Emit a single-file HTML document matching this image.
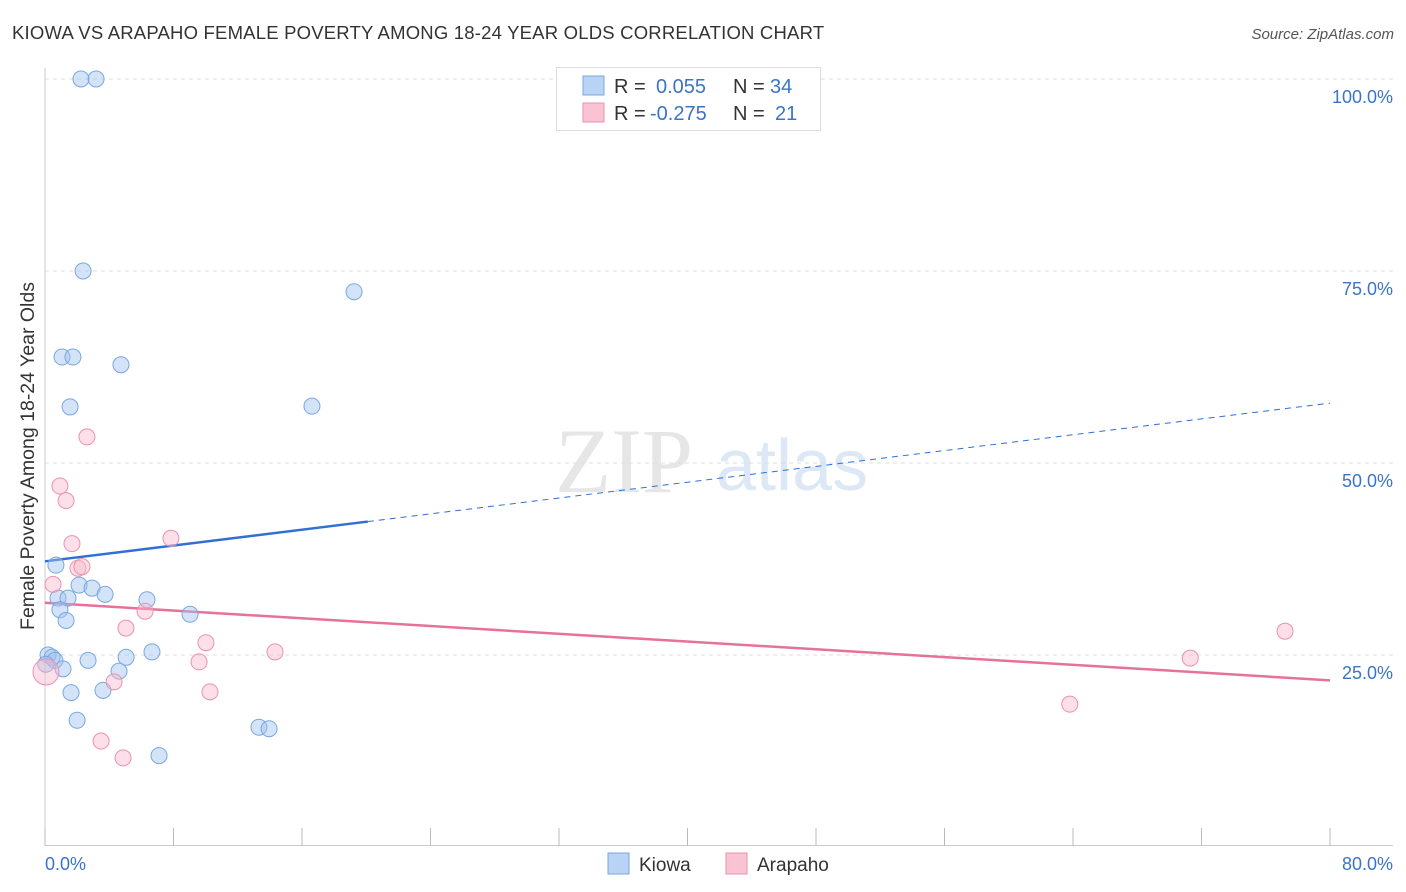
<!DOCTYPE html>
<html><head><meta charset="utf-8"><style>
body{margin:0;background:#fff;font-family:"Liberation Sans",sans-serif;}
#wrap{position:relative;width:1406px;height:892px;overflow:hidden;}
</style></head><body>
<div id="wrap">
<svg id="svg" width="1406" height="892" xmlns="http://www.w3.org/2000/svg">
<text x="12" y="39" font-size="18.5" letter-spacing="0.2" fill="#333">KIOWA VS ARAPAHO FEMALE POVERTY AMONG 18-24 YEAR OLDS CORRELATION CHART</text>
<text x="1394" y="39" font-size="15" fill="#555" font-style="italic" text-anchor="end">Source: ZipAtlas.com</text>
<text x="555" y="492" font-size="92" fill="#e6e6e6" font-family="Liberation Serif,serif">ZIP</text>
<text x="716" y="490" font-size="72" fill="#dce8f6">atlas</text>
<text transform="translate(34,456) rotate(-90)" font-size="19.5" fill="#333" text-anchor="middle">Female Poverty Among 18-24 Year Olds</text>
<g id="grid"></g><g id="axes"></g><g id="lines"></g><g id="pts"></g>
<g>
<rect x="556.5" y="67.5" width="264" height="63" fill="#fff" stroke="#ddd"/>
<rect x="583" y="76" width="21" height="19" fill="#b9d3f5" stroke="#7aa7e0"/>
<rect x="583" y="103" width="21" height="19" fill="#f9c3d3" stroke="#eb92ad"/>
<text y="93" font-size="20"><tspan x="614" fill="#333">R =</tspan><tspan x="656" fill="#3a74c9">0.055</tspan><tspan x="733" fill="#333">N =</tspan><tspan x="770" fill="#3a74c9">34</tspan></text>
<text y="120" font-size="20"><tspan x="614" fill="#333">R =</tspan><tspan x="650" fill="#3a74c9">-0.275</tspan><tspan x="733" fill="#333">N =</tspan><tspan x="775" fill="#3a74c9">21</tspan></text>
</g>
<g>
<rect x="608" y="853" width="21" height="21" fill="#b9d3f5" stroke="#7aa7e0"/>
<text x="639" y="871" font-size="19" fill="#333">Kiowa</text>
<rect x="726" y="853" width="21" height="21" fill="#f9c3d3" stroke="#eb92ad"/>
<text x="757" y="871" font-size="19" fill="#333">Arapaho</text>
</g>
</svg>
<script>
const kiowaX=[2.24,3.18,2.37,19.24,1.06,1.74,4.73,1.56,16.62,0.68,2.12,2.93,3.74,6.35,0.81,1.43,0.93,9.03,1.31,0.19,0.44,0.62,2.68,5.05,6.66,1.12,4.61,1.62,3.61,2.0,13.32,13.95,7.1,0.05];
const kiowaY=[100,100,75.0,72.3,63.8,63.8,62.8,57.3,57.4,36.7,34.1,33.7,32.9,32.2,32.4,32.4,30.9,30.3,29.5,25.0,24.7,24.3,24.3,24.7,25.4,23.2,22.9,20.1,20.4,16.5,15.6,15.4,11.9,23.8];
const arapahoX=[2.61,0.93,1.31,1.68,7.84,2.05,2.3,0.5,6.23,5.04,10.02,14.32,9.59,4.3,10.27,3.49,4.86,63.8,71.3,77.2,0.06];
const arapahoY=[53.4,47.0,45.1,39.5,40.2,36.3,36.5,34.2,30.7,28.5,26.6,25.4,24.1,21.5,20.2,13.8,11.6,18.6,24.6,28.1,22.8];
const yTicks=[25,50,75,100];
const yTickLabels=["25.0%","50.0%","75.0%","100.0%"];
const kiowaTrend=[37.2,57.8];
const kiowaSolidEnd=20.1;
const arapahoTrend=[31.8,21.7];
const NS="http://www.w3.org/2000/svg";
const sx=v=>45+v/80*1285, sy=v=>847-v*7.68;
function mk(tag,attrs,parent){const e=document.createElementNS(NS,tag);for(const k in attrs)e.setAttribute(k,attrs[k]);document.getElementById(parent).appendChild(e);return e;}
yTicks.forEach((t,i)=>{
 const g=mk('line',{x1:45,x2:1393,y1:sy(t),y2:sy(t),stroke:'#ddd','stroke-dasharray':'4,4'},'grid');
 
 
 const l=mk('text',{x:1393,y:sy(t)+24,'font-size':18,fill:'#3a74c9','text-anchor':'end'},'grid');
 l.textContent=yTickLabels[i];
 
 
});
mk('line',{x1:45,x2:45,y1:68,y2:846,stroke:'#ccc'},'axes');
mk('line',{x1:45,x2:1393,y1:845.5,y2:845.5,stroke:'#ccc'},'axes');
for(let i=0;i<=10;i++){mk('line',{x1:sx(i*8),x2:sx(i*8),y1:828,y2:846,stroke:'#bbb'},'axes');}
const x0=mk('text',{x:45,y:870,'font-size':18,fill:'#3a74c9'},'axes');x0.textContent='0.0%';


const x1=mk('text',{x:1393,y:870,'font-size':18,fill:'#3a74c9','text-anchor':'end'},'axes');x1.textContent='80.0%';


const ky=x=>kiowaTrend[0]+(kiowaTrend[1]-kiowaTrend[0])*x/80;
const kl=mk('line',{x1:sx(0),y1:sy(ky(0)),x2:sx(kiowaSolidEnd),y2:sy(ky(kiowaSolidEnd)),stroke:'#2f6fd6','stroke-width':2.5},'lines');


const kd=mk('line',{x1:sx(kiowaSolidEnd),y1:sy(ky(kiowaSolidEnd)),x2:sx(80),y2:sy(ky(80)),stroke:'#2f6fd6','stroke-width':1,'stroke-dasharray':'6,5'},'lines');


const al=mk('line',{x1:sx(0),y1:sy(arapahoTrend[0]),x2:sx(80),y2:sy(arapahoTrend[1]),stroke:'#e6719a','stroke-width':2.5},'lines');


kiowaX.forEach((x,i)=>{
 const c=mk('circle',{cx:sx(x),cy:sy(kiowaY[i]),r:8,fill:'rgba(160,195,240,0.45)',stroke:'#7aa7e0','stroke-width':1},'pts');
 
 
});
arapahoX.forEach((x,i)=>{
 const c=mk('circle',{cx:sx(x),cy:sy(arapahoY[i]),r:i==20?13:8,fill:'rgba(248,185,205,0.45)',stroke:'#eb92ad','stroke-width':1},'pts');
 
 
});
</script>
</div>
</body></html>
